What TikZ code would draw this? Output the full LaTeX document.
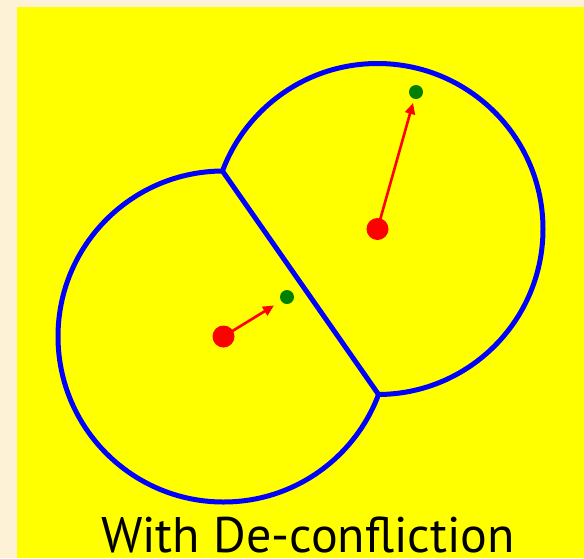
\documentclass[tikz,border=0pt]{standalone}
\usepackage{fontspec}
\setmainfont{PT Sans}
\usetikzlibrary{calc,arrows.meta,intersections}
\definecolor{cream}{RGB}{254,242,214}
\definecolor{bgyellow}{RGB}{255,255,0}
\definecolor{cellblue}{RGB}{0,0,255}
\definecolor{dotred}{RGB}{255,0,0}
\definecolor{dotgreen}{RGB}{0,128,0}
\tikzset{
  cell/.style={draw=cellblue, line width=5pt},
  agent/.style={circle, fill=dotred, inner sep=0pt, minimum size=22pt},
  goal/.style={circle, fill=dotgreen, inner sep=0pt, minimum size=14pt},
  move/.style={draw=dotred, line width=2.6pt, -{Triangle[length=11pt,width=10pt]}},
}
\begin{document}
\begin{tikzpicture}[x=1pt,y=-1pt]
\fill[cream] (0,0) rectangle (584,558);
\fill[bgyellow] (17,7) rectangle (584,558);
\useasboundingbox (0,0) rectangle (584,558);
\coordinate (c1) at (223.5,336.5);
\coordinate (c2) at (377.5,229);
\coordinate (m) at ($(c1)!0.5!(c2)$);
% left cell arc
\begin{scope}
  \clip ($(m)!10!90:(c2)$) -- ($(m)!10!180:(c2)$) -- ($(m)!10!-90:(c2)$) -- cycle;
  \draw[cell] (c1) circle[radius=165.5];
\end{scope}
% right cell arc
\begin{scope}
  \clip ($(m)!10!90:(c1)$) -- ($(m)!10!180:(c1)$) -- ($(m)!10!-90:(c1)$) -- cycle;
  \draw[cell] (c2) circle[radius=165.5];
\end{scope}
% shared border
\path[name path=k1] (c1) circle[radius=165.5];
\path[name path=k2] (c2) circle[radius=165.5];
\path[name intersections={of=k1 and k2, by={p,q}}];
\draw[cell, line cap=round] (p) -- (q);
% agents and goals
\node[agent] (r1) at (c1) {};
\node[agent] (r2) at (c2) {};
\node[goal] (g1) at (287,297) {};
\node[goal] (g2) at (416,92) {};
\coordinate (t1) at (274,305.5);
\coordinate (t2) at (413,103);
\draw[move] (r1.center) -- (t1);
\draw[move] (r2.center) -- (t2);
\node[anchor=base, font=\fontsize{50}{54}\selectfont, inner sep=0pt, text depth=0pt] (lbl) at (308,552) {With De-confliction};
\end{tikzpicture}
\end{document}
